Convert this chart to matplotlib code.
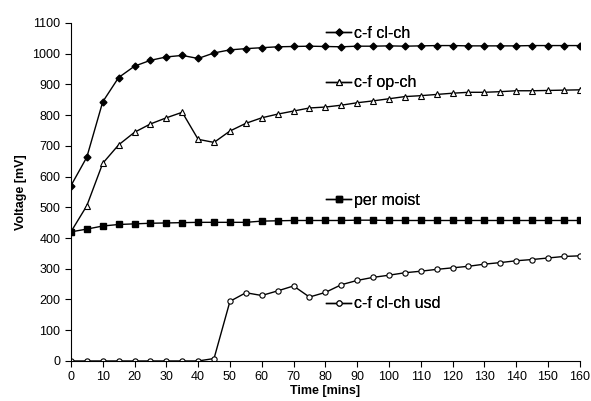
import matplotlib
matplotlib.use('Agg')
import matplotlib.pyplot as plt
import numpy as np

plt.rcParams['font.family'] = ['Liberation Sans', 'DejaVu Sans']

# time axis (minutes)
time = list(range(0, 165, 5))

# measured voltages [mV]
cf_clch = [570, 663, 843, 922, 959, 978, 989, 994, 984, 1002, 1012, 1016, 1019,
           1022, 1023, 1024, 1023, 1022, 1024, 1024, 1025, 1024, 1025, 1026,
           1026, 1025, 1025, 1025, 1025, 1026, 1026, 1026, 1026]
cf_opch = [420, 505, 643, 703, 744, 771, 791, 809, 721, 711, 748, 773, 791,
           803, 813, 823, 826, 832, 840, 846, 853, 860, 863, 867, 871, 874,
           874, 876, 879, 879, 880, 881, 882]
per_moist = [420, 429, 439, 444, 446, 448, 449, 450, 451, 451, 451, 451, 455,
             456, 457, 457, 457, 457, 458, 458, 457, 457, 457, 457, 457, 457,
             457, 457, 457, 457, 457, 457, 457]
cf_clch_usd = [0, 0, 0, 0, 0, 0, 0, 0, 0, 8, 194, 222, 213, 228, 244, 208,
               223, 248, 262, 272, 279, 287, 292, 298, 303, 308, 315, 320,
               326, 330, 335, 340, 342]

labels = ['c-f cl-ch', 'c-f op-ch', 'per moist', 'c-f cl-ch usd']
yticks = list(range(0, 1200, 100))
xticks = list(range(0, 170, 10))

fig = plt.figure(figsize=(5.91, 4.01), dpi=100)
ax = fig.add_axes([0.120, 0.0998, 0.861, 0.8433])

l1, = ax.plot(time, cf_clch, color='black', lw=1, marker='D', ms=3.5,
              mfc='black', mec='black')
l2, = ax.plot(time, cf_opch, color='black', lw=1, marker='^', ms=4.5,
              mfc='white', mec='black', mew=0.8)
l3, = ax.plot(time, per_moist, color='black', lw=1, marker='s', ms=4.5,
              mfc='black', mec='black')
l4, = ax.plot(time, cf_clch_usd, color='black', lw=1, marker='o', ms=3.8,
              mfc='white', mec='black', mew=0.8)

ax.set_xlim(0, 160)
ax.set_ylim(0, 1100)
ax.set_xticks(xticks)
ax.set_yticks(yticks)
ax.tick_params(labelsize=9, direction='out', length=4, width=0.8)
for s in ['top', 'right']:
    ax.spines[s].set_visible(False)
ax.set_xlabel('Time [mins]', fontsize=9, fontweight='bold', labelpad=1)
ax.set_ylabel('Voltage [mV]', fontsize=9, fontweight='bold', labelpad=4)
ax.patch.set_alpha(0)

# one label per series, placed beside each curve
anchors = [(0.552, 1 - 33 / 401), (0.552, 1 - 83 / 401),
           (0.552, 1 - 200 / 401), (0.552, 1 - 304 / 401)]
for h, lab, a in zip([l1, l2, l3, l4], labels, anchors):
    lg = fig.legend([h], [lab], loc='center left', bbox_to_anchor=a,
                    frameon=False, fontsize=11.5, handlelength=1.55,
                    handletextpad=0.2, borderpad=0, borderaxespad=0,
                    numpoints=1)
    fig.add_artist(lg)

fig.savefig('out.png', dpi=100)
